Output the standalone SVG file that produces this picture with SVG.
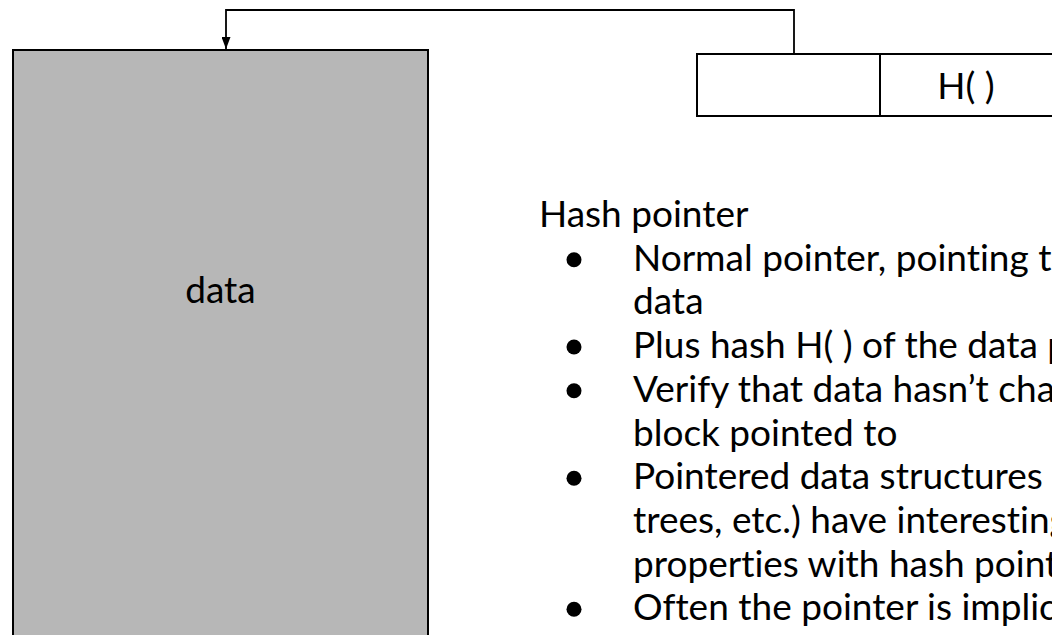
<svg xmlns="http://www.w3.org/2000/svg" width="1052" height="635" viewBox="0 0 1052 635">
  <style>
    .label { font-family: Lato, "Liberation Sans", sans-serif; font-size: 37px; fill: #000; font-variant-ligatures: none; }
    .box { stroke: #000; stroke-width: 2; }
    .link { fill: none; stroke: #000; stroke-width: 1.8; }
  </style>
  <defs>
    <marker id="arrow" viewBox="0 0 12 9" refX="12" refY="4.5" markerWidth="12" markerHeight="9" markerUnits="userSpaceOnUse" orient="auto">
      <path d="M0,0 L12,4.5 L0,9 Z" fill="#000"/>
    </marker>
  </defs>
  <rect width="1052" height="635" fill="#fff"/>

  <!-- data block -->
  <g id="data-block">
    <rect class="box" x="13" y="50" width="415" height="600" fill="#b7b7b7"/>
    <text class="label" x="220.5" y="303" text-anchor="middle">data</text>
  </g>

  <!-- hash pointer: pointer cell + hash cell -->
  <g id="hash-pointer">
    <rect class="box" x="697" y="54" width="370" height="62" fill="#fff"/>
    <line class="box" x1="880" y1="54" x2="880" y2="116"/>
    <text class="label" x="966" y="99" text-anchor="middle">H( )</text>
  </g>

  <!-- connector from pointer cell back to the data block -->
  <g id="connectors">
    <path class="link" d="M794,54 V10 H226 V49" marker-end="url(#arrow)"/>
  </g>

  <!-- description -->
  <g id="notes" class="label">
    <text x="539" y="227">Hash pointer</text>
    <text x="633" y="270.7">Normal pointer, pointing to where some information is stored</text>
    <text x="633" y="314.4">data</text>
    <text x="633" y="358">Plus hash H( ) of the data pointed to</text>
    <text x="633" y="401.8">Verify that data hasn’t changed since the</text>
    <text x="633" y="445.5">block pointed to</text>
    <text x="633" y="489.2">Pointered data structures (linked lists,</text>
    <text x="633" y="532.9">trees, etc.) have interesting security</text>
    <text x="633" y="576.6">properties with hash pointers</text>
    <text x="633" y="620.3">Often the pointer is implicit</text>
    <g fill="#000">
      <circle cx="574" cy="259.7" r="7.5"/>
      <circle cx="574" cy="347" r="7.5"/>
      <circle cx="574" cy="390.8" r="7.5"/>
      <circle cx="574" cy="478.2" r="7.5"/>
      <circle cx="574" cy="609.3" r="7.5"/>
    </g>
  </g>
</svg>
